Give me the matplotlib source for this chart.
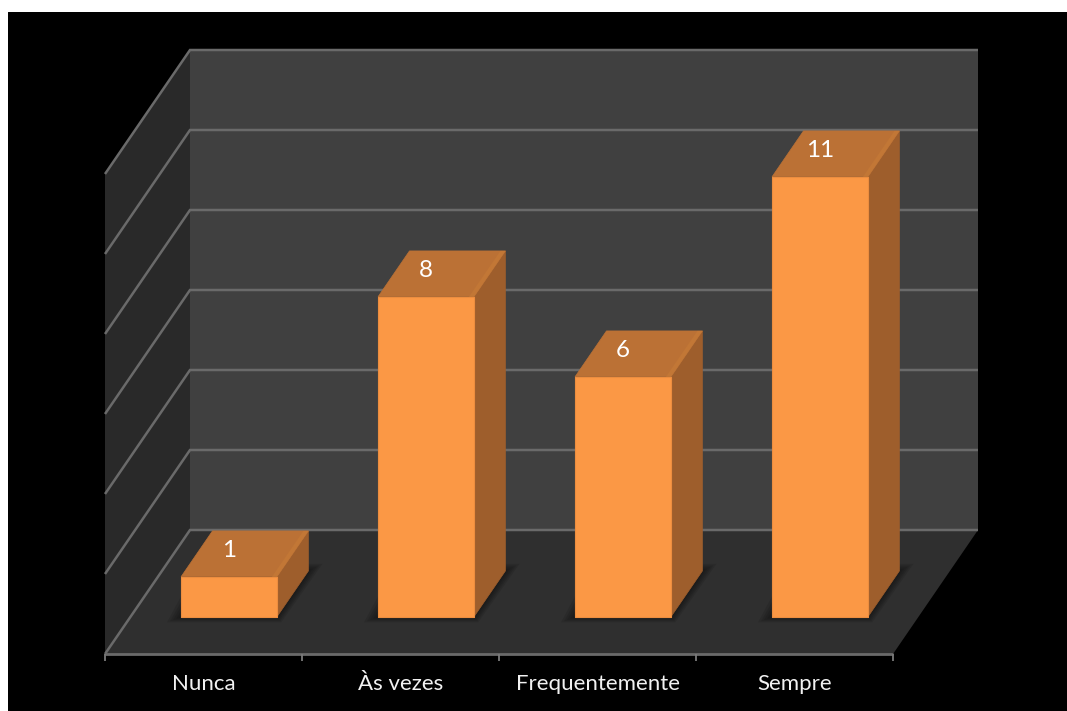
import matplotlib
matplotlib.use("Agg")
import matplotlib.pyplot as plt
from matplotlib.patches import Polygon

categories = ["Nunca", "Às vezes", "Frequentemente", "Sempre"]
values = [1, 8, 6, 11]
grid_values = [0, 2, 4, 6, 8, 10, 12]

# depth of the 3d box, expressed in x (category) and y (value) units
depth_x = 85 / 197
depth_y = 124 / 40

# bar placement inside a category slot and inside the depth of the box
bar_width = 0.487
bar_front = 0.30
bar_back = 0.67


def project(x, y, d=0.0):
    # oblique projection: d=0 is the front plane, d=1 the back wall
    return (x + d * depth_x, y + d * depth_y)


fig = plt.figure(figsize=(10.67, 7.11), dpi=100, facecolor="white")
ax = fig.add_axes([8 / 1067, 0, 1059 / 1067, 699 / 711], facecolor="black")
ax.set_xlim((8 - 105) / 197, (1067 - 105) / 197)
ax.set_ylim((654 - 711) / 40, (654 - 12) / 40)
ax.axis("off")
ax.add_patch(plt.Rectangle((0, 0), 1, 1, transform=ax.transAxes, color="black", zorder=0))

n = len(categories)
top = grid_values[-1]

# walls and floor
back_wall = [project(0, 0, 1), project(n, 0, 1), project(n, top, 1), project(0, top, 1)]
side_wall = [project(0, 0, 0), project(0, 0, 1), project(0, top, 1), project(0, top, 0)]
floor = [project(0, 0, 0), project(n, 0, 0), project(n, 0, 1), project(0, 0, 1)]
ax.add_patch(Polygon(back_wall, fc="#404040", ec="none", zorder=1))
ax.add_patch(Polygon(side_wall, fc="#292929", ec="none", zorder=1))
ax.add_patch(Polygon(floor, fc="#2f2f2f", ec="none", zorder=1))

# gridlines run along the side wall then across the back wall
for g in grid_values:
    pts = [project(0, g, 0), project(0, g, 1), project(n, g, 1)]
    ax.plot([p[0] for p in pts], [p[1] for p in pts], color="#6a6a6a", lw=1.8,
            solid_joinstyle="miter", solid_capstyle="butt", zorder=2)

# front axis line and ticks
ax.plot([0, n], [0, 0], color="#6a6a6a", lw=2, zorder=3, solid_capstyle="butt")
for i in range(n + 1):
    ax.plot([i, i], [0, -7 / 40], color="#7a7a7a", lw=1.3, zorder=3, solid_capstyle="butt")

for i, (cat, v) in enumerate(zip(categories, values)):
    base = i + 0.5 - bar_width / 2

    # soft shadow on the floor, built from stacked translucent footprints
    for grow in [14, 11, 8, 5, 2]:
        gx = grow / 197
        gy = grow / 40
        fl = project(base, 0, bar_front)
        fr = project(base + bar_width, 0, bar_front)
        br = project(base + bar_width, 0, bar_back)
        bl = project(base, 0, bar_back)
        shadow = [
            (fl[0] - gx, fl[1] - gy * 0.4),
            (fr[0] + gx * 0.3, fr[1] - gy * 0.4),
            (br[0] + gx, br[1] + gy * 0.5),
            (bl[0] - gx, bl[1] + gy * 0.5),
        ]
        ax.add_patch(Polygon(shadow, fc="black", ec="none", alpha=0.1, zorder=4))

    # bar faces: base sits on the floor at the front of the depth range
    fbl = project(base, 0, bar_front)
    fbr = project(base + bar_width, 0, bar_front)
    ftr = project(base + bar_width, v, bar_front)
    ftl = project(base, v, bar_front)
    bbr = project(base + bar_width, 0, bar_back)
    btr = project(base + bar_width, v, bar_back)
    btl = project(base, v, bar_back)

    ax.add_patch(Polygon([fbr, bbr, btr, ftr], fc="#9e5e2c", ec="#9e5e2c", lw=0.5, zorder=5))
    ax.add_patch(Polygon([ftl, ftr, btr, btl], fc="#bb7135", ec="#bb7135", lw=0.5, zorder=5))

    # lighter bevel along the right edge of the top face
    inner = 5 / 197
    ax.add_patch(Polygon([(ftr[0] - inner, ftr[1]), ftr, btr, (btr[0] - inner, btr[1])],
                         fc="#c27736", ec="none", zorder=6))
    ax.add_patch(Polygon([fbl, fbr, ftr, ftl], fc="#fb9845", ec="#ec8d3f", lw=0.8,
                         joinstyle="round", zorder=7))

    # value label on the top face, category label under the axis
    ax.text(ftl[0] + bar_width / 2, v + bar_front * depth_y + 26.5 / 40, str(v), color="white",
            fontsize=17.5, family="Lato", ha="center", va="center", zorder=8)
    ax.text(i + 0.5, -30 / 40, cat, color="#f2f2f2", fontsize=16, family="Lato",
            ha="center", va="center", zorder=8)

fig.savefig("out.png", dpi=100, facecolor="white")
